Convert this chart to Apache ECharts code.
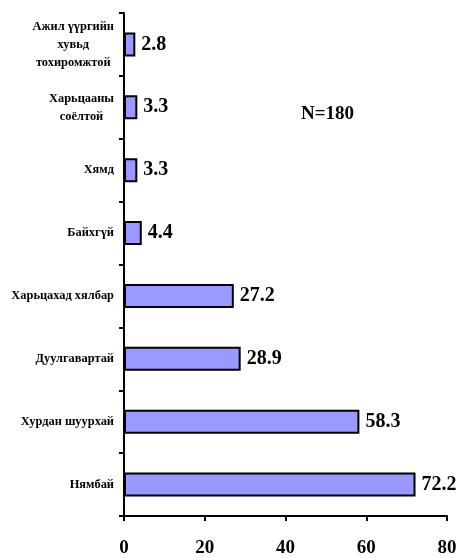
<!DOCTYPE html>
<html>
<head>
<meta charset="utf-8">
<script src="https://cdn.jsdelivr.net/npm/echarts@6/dist/echarts.min.js"></script>
<style>
  html, body { margin: 0; padding: 0; background: #fff; }
  #chart { width: 460px; height: 558px; }
</style>
</head>
<body>
<div id="chart"></div>
<script>
// categories from bottom to top
const categories = [
  "Нямбай",
  "Хурдан шуурхай",
  "Дуулгавартай",
  "Харьцахад хялбар",
  "Байхгүй",
  "Хямд",
  "Харьцааны\nсоёлтой",
  "Ажил үүргийн\nхувьд\nтохиромжтой"
];
const percents = [72.2, 58.3, 28.9, 27.2, 4.4, 3.3, 3.3, 2.8];
const sampleLabel = "N=180";

const serif = '"Liberation Serif", "DejaVu Serif", serif';

const chart = echarts.init(document.getElementById("chart"));

const option = {
  animation: false,
  backgroundColor: "#fff",
  grid: { left: 124, right: 13, top: 13, bottom: 41 },
  xAxis: {
    type: "value",
    min: 0,
    max: 80,
    interval: 20,
    splitLine: { show: false },
    axisLine: { show: true, lineStyle: { color: "#000", width: 2 } },
    axisTick: { show: true, length: 5, lineStyle: { color: "#000", width: 2 } },
    axisLabel: {
      margin: 23,
      fontFamily: serif,
      fontWeight: "bold",
      fontSize: 19,
      color: "#000"
    }
  },
  yAxis: {
    type: "category",
    data: categories,
    axisLine: { show: true, lineStyle: { color: "#000", width: 2 } },
    axisTick: { show: true, length: 5, lineStyle: { color: "#000", width: 2 } },
    axisLabel: {
      margin: 10,
      align: "right",
      color: "#000",
      // multi-line labels are centred line by line, single ones sit flush right
      formatter: (v) => v.split("\n").map((s) => "{c|" + s + "}").join("\n"),
      rich: {
        c: {
          align: "center",
          fontFamily: serif,
          fontWeight: "bold",
          fontSize: 12.4,
          lineHeight: 18,
          color: "#000"
        }
      }
    }
  },
  series: [
    {
      type: "bar",
      data: percents,
      barWidth: "38%",
      itemStyle: { color: "#9999ff", borderColor: "#000", borderWidth: 2 },
      label: {
        show: true,
        position: "right",
        distance: 6,
        fontFamily: serif,
        fontWeight: "bold",
        fontSize: 20,
        color: "#000",
        formatter: (p) => p.value.toFixed(1)
      }
    }
  ],
  graphic: [
    {
      type: "text",
      left: 301,
      top: 105,
      style: {
        text: sampleLabel,
        fontFamily: serif,
        fontWeight: "bold",
        fontSize: 19,
        fill: "#000"
      }
    }
  ]
};

chart.setOption(option);
</script>
</body>
</html>
